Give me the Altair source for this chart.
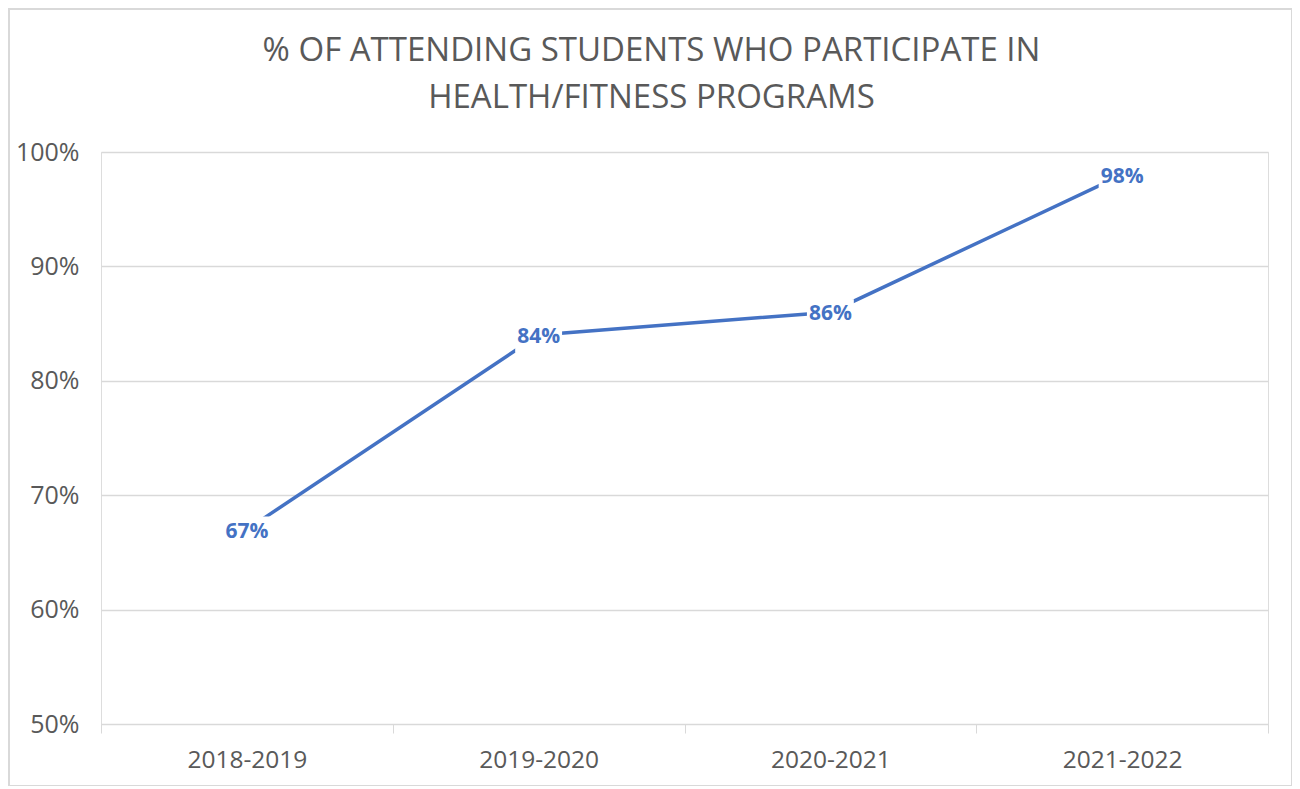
import altair as alt
import pandas as pd

years = ["2018-2019", "2019-2020", "2020-2021", "2021-2022"]
values = [0.67, 0.84, 0.86, 0.98]
labels = ["67%", "84%", "86%", "98%"]

df = pd.DataFrame({"year": years, "value": values, "label": labels})

W, H = 1167, 572
BLUE = "#4472C4"
GRAY = "#595959"
GRID = "#D9D9D9"
FONT = "Open Sans"

x_enc = alt.X(
    "year:N",
    sort=years,
    bandPosition=0.5,
    scale=alt.Scale(type="band", paddingInner=0, paddingOuter=0),
    axis=alt.Axis(
        title=None,
        tickBand="extent",
        domainColor=GRID,
        tickColor=GRID,
        tickSize=9,
        labelPadding=15,
        labelFont=FONT,
        labelFontSize=24.5,
        labelColor=GRAY,
        labelAngle=0,
        grid=False,
    ),
)
y_enc = alt.Y(
    "value:Q",
    scale=alt.Scale(domain=[0.5, 1.0], nice=False, zero=False),
    axis=alt.Axis(
        title=None,
        format=".0%",
        values=[0.5, 0.6, 0.7, 0.8, 0.9, 1.0],
        domain=False,
        ticks=False,
        labelPadding=22,
        labelFont=FONT,
        labelFontSize=25,
        labelColor=GRAY,
        gridColor=GRID,
        gridWidth=1.3,
    ),
)

base = alt.Chart(df).encode(x=x_enc, y=y_enc)

line = base.mark_line(color=BLUE, strokeWidth=3.5)
boxes = base.mark_point(
    shape="M-1,-0.55L1,-0.55L1,0.75L-1,0.75Z",
    filled=True,
    fill="white",
    opacity=1,
    size=2200,
    strokeWidth=0,
)
text = base.mark_text(
    font=FONT,
    fontSize=21,
    fontWeight="bold",
    color=BLUE,
    align="center",
    baseline="middle",
    dy=2,
).encode(text="label:N")

border = alt.Chart(df).mark_rect(
    filled=False, stroke=GRID, strokeWidth=1.5, fill=None
).encode(
    x=alt.value(-92), x2=alt.value(W + 24), y=alt.value(-143), y2=alt.value(H + 62)
)

chart = (
    alt.layer(border, line, boxes, text)
    .properties(
        width=W,
        height=H,
        autosize=alt.AutoSizeParams(type="none"),
        padding={"left": 93, "top": 144, "right": 24, "bottom": 62},
        title=alt.TitleParams(
            text=["% OF ATTENDING STUDENTS WHO PARTICIPATE IN", "HEALTH/FITNESS PROGRAMS"],
            font=FONT,
            fontSize=33,
            fontWeight="normal",
            color=GRAY,
            anchor="middle",
            dx=-33,
            dy=107,
            offset=0,
            lineHeight=47,
        ),
    )
    .configure_view(stroke=None)
    .configure(background="white")
)

chart.save("out.html", embed_options={"renderer": "svg", "actions": False})
